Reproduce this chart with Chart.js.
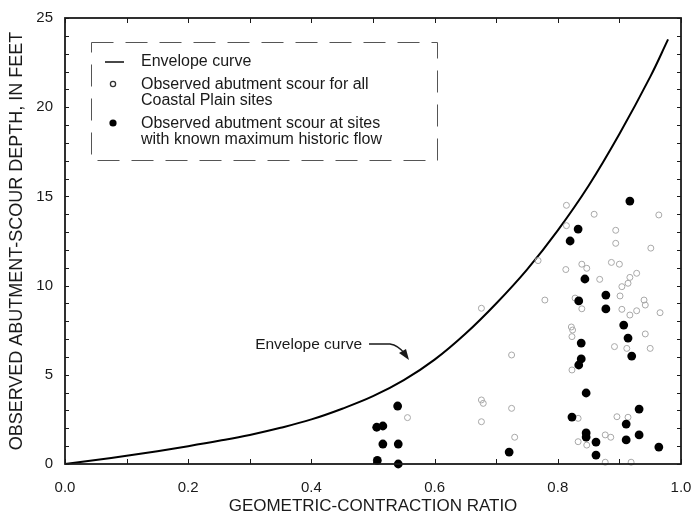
<!DOCTYPE html>
<html><head><meta charset="utf-8">
<script src="https://cdn.jsdelivr.net/npm/chart.js@4/dist/chart.umd.min.js"></script>
<style>html,body{margin:0;padding:0;background:#fff}</style>
</head><body>
<canvas id="c" width="695" height="517" style="display:block;width:695px;height:517px"></canvas>
<script>
// ---- Data ----
const envelopeX = [0, 0.05, 0.1, 0.15, 0.2, 0.25, 0.3, 0.35, 0.4, 0.45, 0.5, 0.55, 0.6, 0.65, 0.7, 0.75, 0.8, 0.85, 0.9, 0.95, 0.979];
const envelopeY = [0, 0.22, 0.46, 0.72, 1.0, 1.3, 1.63, 2.03, 2.5, 3.1, 3.8, 4.7, 5.85, 7.3, 9.0, 10.9, 13.1, 15.6, 18.5, 21.7, 23.8];

const openX = [0.814, 0.814, 0.768, 0.839, 0.813, 0.779, 0.676, 0.828, 0.839, 0.822,
  0.859, 0.964, 0.894, 0.894, 0.951, 0.887, 0.900, 0.847, 0.868, 0.917, 0.928, 0.914, 0.904, 0.901,
  0.940, 0.942, 0.904, 0.928, 0.966, 0.917,
  0.824, 0.823, 0.725, 0.823, 0.676, 0.679, 0.725, 0.676, 0.730, 0.833, 0.833,
  0.892, 0.912, 0.942, 0.950, 0.896, 0.914, 0.877, 0.886, 0.847, 0.877, 0.919, 0.556];
const openY = [14.5, 13.36, 11.4, 11.2, 10.9, 9.19, 8.73, 9.3, 8.7, 7.68,
  14.0, 13.96, 13.1, 12.37, 12.1, 11.3, 11.2, 10.97, 10.35, 10.46, 10.69, 10.13, 9.94, 9.42,
  9.19, 8.91, 8.67, 8.59, 8.48, 8.35,
  7.51, 7.14, 6.11, 5.27, 3.59, 3.4, 3.12, 2.37, 1.5, 2.56, 1.25,
  6.58, 6.48, 7.29, 6.48, 2.65, 2.62, 1.63, 1.5, 1.06, 0.1, 0.1, 2.6];

const filledX = [0.540, 0.506, 0.516, 0.516, 0.541, 0.507, 0.541,
  0.917, 0.833, 0.820, 0.844, 0.878, 0.834, 0.878,
  0.907, 0.914, 0.838, 0.920, 0.838, 0.834, 0.846, 0.932, 0.823, 0.911,
  0.846, 0.846, 0.932, 0.862, 0.911, 0.964, 0.721, 0.862];
const filledY = [3.25, 2.06, 2.13, 1.12, 1.12, 0.2, 0.0,
  14.74, 13.17, 12.5, 10.37, 9.47, 9.14, 8.69,
  7.79, 7.06, 6.78, 6.05, 5.89, 5.55, 3.98, 3.08, 2.63, 2.24,
  1.74, 1.51, 1.63, 1.23, 1.35, 0.95, 0.67, 0.50];

const xTickLabels = [0, 0.2, 0.4, 0.6, 0.8, 1.0];
const yTickLabels = [0, 5, 10, 15, 20, 25];

const legendLabels = [
  ['Envelope curve'],
  ['Observed abutment scour for all', 'Coastal Plain sites'],
  ['Observed abutment scour at sites', 'with known maximum historic flow']
];
const annotationText = 'Envelope curve';

const FONT = '"Liberation Sans", Arial, Helvetica, sans-serif';
const INK = '#1a1a1a';

const toPts = (xs, ys) => xs.map((x, i) => ({x: x, y: ys[i]}));

const decorPlugin = {
  id: 'decor',
  afterDatasetsDraw(chart) {
    const {ctx, chartArea: a, scales: {x, y}} = chart;
    ctx.save();
    // frame
    ctx.strokeStyle = INK;
    ctx.lineWidth = 1.8;
    ctx.strokeRect(a.left, a.top, a.right - a.left, a.bottom - a.top);
    // inward ticks
    ctx.lineWidth = 1;
    ctx.beginPath();
    for (let i = 0; i <= 10; i++) {
      const px = Math.round(x.getPixelForValue(i / 10)) + 0.5;
      ctx.moveTo(px, a.bottom); ctx.lineTo(px, a.bottom - 5);
      ctx.moveTo(px, a.top); ctx.lineTo(px, a.top + 5);
    }
    for (let j = 0; j <= 25; j++) {
      const py = Math.round(y.getPixelForValue(j)) + 0.5;
      const len = 4;
      ctx.moveTo(a.left, py); ctx.lineTo(a.left + len, py);
      ctx.moveTo(a.right, py); ctx.lineTo(a.right - len, py);
    }
    ctx.stroke();

    // annotation
    ctx.fillStyle = INK;
    ctx.font = '15.5px ' + FONT;
    ctx.textBaseline = 'middle';
    ctx.textAlign = 'right';
    ctx.fillText(annotationText, 362, 345);
    ctx.lineWidth = 1.4;
    ctx.strokeStyle = INK;
    ctx.beginPath();
    ctx.moveTo(369, 344);
    ctx.lineTo(390, 344);
    ctx.quadraticCurveTo(398, 345, 405, 354);
    ctx.stroke();
    ctx.beginPath();
    ctx.moveTo(409, 360);
    ctx.lineTo(399, 353);
    ctx.lineTo(406, 349);
    ctx.closePath();
    ctx.fill();

    // legend box
    ctx.strokeStyle = '#555';
    ctx.lineWidth = 1;
    ctx.setLineDash([22, 12]);
    ctx.strokeRect(91.5, 42.5, 346, 118);
    ctx.setLineDash([]);
    ctx.font = '16px ' + FONT;
    ctx.textAlign = 'left';
    // line sample
    ctx.strokeStyle = INK; ctx.lineWidth = 1.6;
    ctx.beginPath(); ctx.moveTo(105, 62); ctx.lineTo(124, 62); ctx.stroke();
    ctx.fillText(legendLabels[0][0], 141, 62);
    // open circle
    ctx.lineWidth = 1.3; ctx.strokeStyle = '#333';
    ctx.beginPath(); ctx.arc(113, 84, 2.6, 0, Math.PI * 2); ctx.stroke();
    ctx.fillText(legendLabels[1][0], 141, 85);
    ctx.fillText(legendLabels[1][1], 141, 101);
    // filled circle
    ctx.fillStyle = '#000';
    ctx.beginPath(); ctx.arc(113, 123, 3.6, 0, Math.PI * 2); ctx.fill();
    ctx.fillStyle = INK;
    ctx.fillText(legendLabels[2][0], 141, 124);
    ctx.fillText(legendLabels[2][1], 141, 140);
    ctx.restore();
  }
};

new Chart(document.getElementById('c'), {
  type: 'scatter',
  data: {
    datasets: [
      {
        label: 'Envelope curve', type: 'line',
        data: toPts(envelopeX, envelopeY),
        borderColor: '#000', borderWidth: 2, pointRadius: 0,
        tension: 0.4, fill: false, clip: false, order: 3
      },
      {
        label: 'Observed abutment scour for all Coastal Plain sites',
        data: toPts(openX, openY),
        pointStyle: 'circle', pointRadius: 3, pointBorderWidth: 1,
        borderColor: '#a8a8a8', backgroundColor: 'rgba(255,255,255,0)', clip: false, order: 2
      },
      {
        label: 'Observed abutment scour at sites with known maximum historic flow',
        data: toPts(filledX, filledY),
        pointStyle: 'circle', pointRadius: 4.4, pointBorderWidth: 0,
        borderColor: '#000', backgroundColor: '#000', clip: false, order: 1
      }
    ]
  },
  options: {
    responsive: false, animation: false, devicePixelRatio: 1,
    layout: {padding: {left: 0, right: 14, top: 18, bottom: 0}},
    plugins: {legend: {display: false}, tooltip: {enabled: false}},
    scales: {
      x: {
        type: 'linear', min: 0, max: 1,
        afterBuildTicks: s => { s.ticks = xTickLabels.map(v => ({value: v})); },
        afterFit: s => { s.height = 53; s.paddingLeft = 0; s.paddingRight = 0; },
        grid: {display: false, drawTicks: false},
        border: {display: false},
        ticks: {padding: 15, color: INK, font: {family: FONT, size: 15}, maxRotation: 0,
          callback: v => Number(v).toFixed(1)},
        title: {display: true, text: 'GEOMETRIC-CONTRACTION RATIO', color: INK,
          font: {family: FONT, size: 17}, padding: {top: 0, bottom: 0}}
      },
      y: {
        type: 'linear', min: 0, max: 25,
        afterBuildTicks: s => { s.ticks = yTickLabels.map(v => ({value: v})); },
        afterFit: s => { s.width = 65; s.paddingTop = 0; s.paddingBottom = 0; },
        grid: {display: false, drawTicks: false},
        border: {display: false},
        ticks: {padding: 12, color: INK, font: {family: FONT, size: 15}},
        title: {display: true, text: 'OBSERVED ABUTMENT-SCOUR DEPTH, IN FEET', color: INK,
          font: {family: FONT, size: 18}, padding: {top: 6, bottom: 0}}
      }
    }
  },
  plugins: [decorPlugin]
});
</script>
</body></html>
